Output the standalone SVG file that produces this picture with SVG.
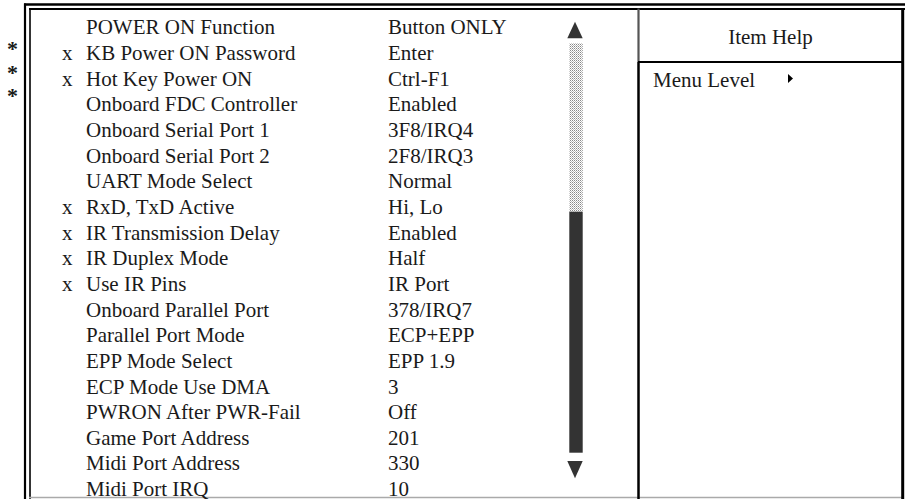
<svg xmlns="http://www.w3.org/2000/svg" width="905" height="499" viewBox="0 0 905 499">
<style>
  text { font-family: "Liberation Serif", "Times New Roman", serif; font-size: 21px; fill: #1a1a1a; }
  .star { font-family: "Liberation Serif", serif; font-weight: bold; font-size: 22px; text-anchor: middle; }
  .frame { stroke: #000; fill: none; }
  .sb { fill: #333; }
</style>
<defs>
  <pattern id="dots" x="0" y="0" width="2" height="2" patternUnits="userSpaceOnUse">
    <rect width="2" height="2" fill="#fff"/>
    <rect x="0" y="0" width="1" height="1" fill="#888"/>
    <rect x="1" y="1" width="1" height="1" fill="#bbb"/>
  </pattern>
</defs>
<rect width="905" height="499" fill="#fff"/>

<g id="frame">
  <line class="frame" x1="24" y1="4.5" x2="905" y2="4.5" stroke-width="2.4"/>
  <line class="frame" x1="29" y1="9" x2="905" y2="9" stroke-width="1.8"/>
  <line class="frame" x1="25" y1="3.5" x2="25" y2="499" stroke-width="2.2"/>
  <line class="frame" x1="30" y1="8.5" x2="30" y2="499" stroke-width="1.6"/>
  <line x1="29" y1="497.6" x2="902" y2="497.6" stroke="#aaa" stroke-width="1.5"/>
  <line class="frame" x1="902.7" y1="8" x2="902.7" y2="499" stroke-width="3"/>
</g>

<g id="stars">
  <text class="star" x="12.5" y="56">*</text>
  <text class="star" x="12.5" y="79.5">*</text>
  <text class="star" x="12.5" y="102.7">*</text>
</g>

<g id="marks">
  <text x="62" y="60">x</text>
  <text x="62" y="85.7">x</text>
  <text x="62" y="213.9">x</text>
  <text x="62" y="239.5">x</text>
  <text x="62" y="265.2">x</text>
  <text x="62" y="290.9">x</text>
</g>

<g id="items">
  <text x="86" y="34.4">POWER ON Function</text>
  <text x="86" y="60">KB Power ON Password</text>
  <text x="86" y="85.7">Hot Key Power ON</text>
  <text x="86" y="111.4">Onboard FDC Controller</text>
  <text x="86" y="137">Onboard Serial Port 1</text>
  <text x="86" y="162.7">Onboard Serial Port 2</text>
  <text x="86" y="188.3">UART Mode Select</text>
  <text x="86" y="213.9">RxD, TxD Active</text>
  <text x="86" y="239.6">IR Transmission Delay</text>
  <text x="86" y="265.2">IR Duplex Mode</text>
  <text x="86" y="290.9">Use IR Pins</text>
  <text x="86" y="316.5">Onboard Parallel Port</text>
  <text x="86" y="342.2">Parallel Port Mode</text>
  <text x="86" y="367.8">EPP Mode Select</text>
  <text x="86" y="393.5">ECP Mode Use DMA</text>
  <text x="86" y="419.1">PWRON After PWR-Fail</text>
  <text x="86" y="444.8">Game Port Address</text>
  <text x="86" y="470.4">Midi Port Address</text>
  <text x="86" y="495.5">Midi Port IRQ</text>
</g>

<g id="values">
  <text x="388" y="34.4">Button ONLY</text>
  <text x="388" y="60">Enter</text>
  <text x="388" y="85.7">Ctrl-F1</text>
  <text x="388" y="111.4">Enabled</text>
  <text x="388" y="137">3F8/IRQ4</text>
  <text x="388" y="162.7">2F8/IRQ3</text>
  <text x="388" y="188.3">Normal</text>
  <text x="388" y="213.9">Hi, Lo</text>
  <text x="388" y="239.6">Enabled</text>
  <text x="388" y="265.2">Half</text>
  <text x="388" y="290.9">IR Port</text>
  <text x="388" y="316.5">378/IRQ7</text>
  <text x="388" y="342.2">ECP+EPP</text>
  <text x="388" y="367.8">EPP 1.9</text>
  <text x="388" y="393.5">3</text>
  <text x="388" y="419.1">Off</text>
  <text x="388" y="444.8">201</text>
  <text x="388" y="470.4">330</text>
  <text x="388" y="495.5">10</text>
</g>

<g id="scrollbar">
  <polygon class="sb" points="575,21.7 567.3,38.3 582.7,38.3"/>
  <rect x="569.3" y="43.3" width="13.4" height="168.4" fill="url(#dots)"/>
  <rect class="sb" x="569.3" y="211.7" width="13.4" height="241"/>
  <polygon class="sb" points="567.3,461 582.7,461 575,478.3"/>
</g>

<g id="help">
  <line x1="638.5" y1="8.5" x2="638.5" y2="62" stroke="#555" stroke-width="2.2"/>
  <line class="frame" x1="638.5" y1="62" x2="638.5" y2="499" stroke-width="2.5"/>
  <line class="frame" x1="638" y1="62" x2="903" y2="62" stroke-width="2"/>
  <text x="770.5" y="44.3" text-anchor="middle">Item Help</text>
  <text x="653" y="87.3">Menu Level</text>
  <polygon fill="#000" points="788,74 788,83 793,78.5"/>
</g>
</svg>
